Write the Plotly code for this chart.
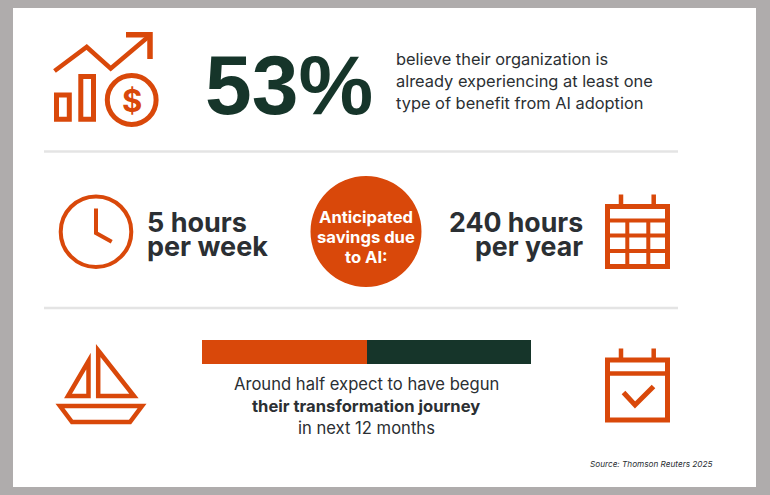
import plotly.graph_objects as go

ORANGE = "#D9480A"
DARK_GREEN = "#16352A"
INK = "#2B2F33"

# data
headline_value = "53%"
headline_lines = ["believe their organization is",
                  "already experiencing at least one",
                  "type of benefit from AI adoption"]
weekly_lines = ["5 hours", "per week"]
yearly_lines = ["240 hours", "per year"]
circle_lines = ["Anticipated", "savings due", "to AI:"]
journey_lines = ["Around half expect to have begun",
                 "<b>their transformation journey</b>",
                 "in next 12 months"]
source_text = "Source: Thomson Reuters 2025"
journey_labels = ["Begun", "Not begun"]
journey_shares = [50, 50]
journey_colors = [ORANGE, DARK_GREEN]


def label(text, x, y, size, color=INK, anchor="left", weight=400, style="normal", family="Inter"):
    return dict(text=text, x=x, y=y, xref="x", yref="y", xanchor=anchor, yanchor="middle",
                showarrow=False, borderpad=0, borderwidth=0,
                font=dict(family=family, size=size, color=color, weight=weight, style=style))


def outline(path, width=5, color=ORANGE):
    return dict(type="path", path=path, xref="x", yref="y", line=dict(color=color, width=width))


def ring(cx, cy, r, width, fill="rgba(0,0,0,0)"):
    return dict(type="circle", xref="x", yref="y", x0=cx - r, x1=cx + r, y0=cy - r, y1=cy + r,
                line=dict(color=ORANGE, width=width), fillcolor=fill)


fig = go.Figure()

# transformation bar, gets its own little axes
for name, share, color in zip(journey_labels, journey_shares, journey_colors):
    fig.add_trace(go.Bar(x=[share], y=["journey"], name=name, orientation="h",
                         marker=dict(color=color, line=dict(width=0)),
                         xaxis="x2", yaxis="y2", showlegend=False, hoverinfo="skip"))

shapes = [
    dict(type="rect", xref="x", yref="y", x0=13, x1=756, y0=8, y1=487,
         fillcolor="#FFFFFF", line=dict(width=0), layer="below"),
    dict(type="line", xref="x", yref="y", x0=44, x1=678, y0=151.5, y1=151.5,
         line=dict(color="#E4E4E4", width=2.5)),
    dict(type="line", xref="x", yref="y", x0=44, x1=678, y0=308, y1=308,
         line=dict(color="#E4E4E4", width=2.5)),
    # growth icon
    outline("M54.5,71 L86.7,47 L110.7,68.5 L148,37", 4.5),
    outline("M126,34.7 L150,34.7 L150,59", 5.5),
    outline("M56.5,95 H69.3 V119.2 H56.5 Z"),
    outline("M80.8,76.5 H93.5 V119.2 H80.8 Z"),
    ring(131.7, 100, 24.4, 5),
    # clock
    ring(96, 231.7, 35.3, 4),
    outline("M96,208.5 V233 L111.7,241.7", 4),
    # savings circle
    ring(366, 231.5, 55.5, 0, fill=ORANGE),
    # year calendar
    outline("M607.5,206.5 H667.5 V266.5 H607.5 Z"),
    outline("M621,194.5 V206 M653.7,194.5 V206", 4.5),
    outline("M607.5,220.5 H667.5 M607.5,235.5 H667.5 M607.5,251 H667.5", 4),
    outline("M627.3,220.5 V266 M648.3,220.5 V266", 4),
    # boat
    outline("M98.2,350.5 L134,396 H98.2 Z", 4.5),
    outline("M88.5,361 V396 H68 Z", 4.5),
    outline("M60,406 H142 L130,422 H72 Z", 4.5),
    # check calendar
    outline("M607.5,360 H667.5 V420 H607.5 Z"),
    outline("M621,348.5 V360 M653.7,348.5 V360", 4.5),
    outline("M607.5,373.5 H667.5", 4.5),
    outline("M623.5,392.5 L635,405 L653.5,386.5", 5),
]

annotations = [
    label("$", 131.7, 100, 31, ORANGE, "center", 700),
    label(headline_value, 288.5, 85, 84, DARK_GREEN, "center", 700, family="Liberation Sans"),
    label(source_text, 711.5, 464, 8.2, INK, "right", 400, "italic"),
]
for line, y in zip(headline_lines, [59, 81, 103]):
    annotations.append(label(line, 396, y, 16.4))
for line, y in zip(weekly_lines, [222, 246]):
    annotations.append(label(line, 147, y, 27, INK, "left", 700))
for line, y in zip(yearly_lines, [222, 246]):
    annotations.append(label(line, 582.5, y, 26.7, INK, "right", 700))
for line, y in zip(circle_lines, [217, 237, 257]):
    annotations.append(label(line, 366, y, 16.6, "#FFFFFF", "center", 700))
for line, y in zip(journey_lines, [384, 406, 428]):
    annotations.append(label(line, 366, y, 16.6, INK, "center"))

fig.update_layout(
    width=770, height=495,
    margin=dict(l=0, r=0, t=0, b=0),
    paper_bgcolor="#AFACAC", plot_bgcolor="rgba(0,0,0,0)",
    barmode="stack", bargap=0,
    shapes=shapes, annotations=annotations,
    xaxis=dict(range=[0, 770], visible=False, domain=[0, 1]),
    yaxis=dict(range=[495, 0], visible=False, domain=[0, 1]),
    xaxis2=dict(range=[0, sum(journey_shares)], visible=False, anchor="y2",
                domain=[202 / 770, 531 / 770]),
    yaxis2=dict(visible=False, anchor="x2", domain=[1 - 364 / 495, 1 - 340 / 495]),
)

fig.write_html("out.html", config=dict(displayModeBar=False),
               post_script="document.body.style.margin='0';")
